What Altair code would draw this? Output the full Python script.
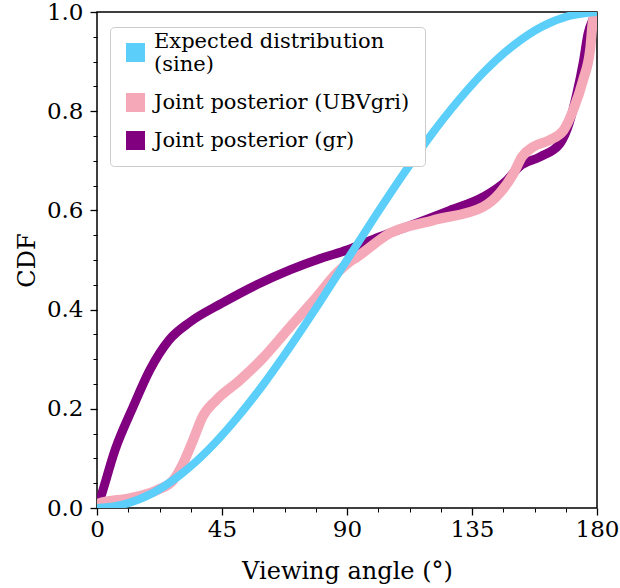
import altair as alt
import pandas as pd

# Expected distribution (sine)
sine_theta = [0, 10, 20, 30, 40, 50, 60, 70, 80, 90, 100, 110, 120, 130, 140, 150, 160, 170, 180]
sine_cdf = [0.0, 0.008, 0.03, 0.067, 0.117, 0.179, 0.25, 0.329, 0.413, 0.5, 0.587, 0.671, 0.75, 0.821, 0.883, 0.933, 0.97, 0.992, 1.0]

# Joint posterior (UBVgri)
ubv_theta = [0, 1, 12, 21.5, 27.4, 31, 34.6, 38, 43, 51.5, 60, 69.5, 79, 86.4, 90.4, 93.6, 105.5, 121, 139, 145, 150, 153, 157, 163, 168, 171.4, 175, 177.5, 178.6, 180]
ubv_cdf = [0.0, 0.01, 0.02, 0.036, 0.056, 0.09, 0.137, 0.184, 0.218, 0.258, 0.304, 0.365, 0.425, 0.474, 0.494, 0.506, 0.554, 0.58, 0.607, 0.635, 0.675, 0.708, 0.728, 0.742, 0.762, 0.802, 0.863, 0.923, 0.984, 1.0]

# Joint posterior (gr)
gr_theta = [0, 1, 6.5, 13, 19, 26, 33.5, 45, 57.5, 69.5, 81, 90, 100, 111.6, 127, 139, 147.6, 152, 159.5, 166.7, 170, 172.8, 175, 176.8, 178.5, 180]
gr_cdf = [0.0, 0.016, 0.117, 0.204, 0.278, 0.339, 0.375, 0.413, 0.45, 0.48, 0.504, 0.52, 0.543, 0.567, 0.60, 0.627, 0.661, 0.688, 0.708, 0.735, 0.776, 0.837, 0.897, 0.957, 0.985, 1.0]

series_names = ["Expected distribution (sine)", "Joint posterior (UBVgri)", "Joint posterior (gr)"]
series_colors = ["#5BCEFA", "#F5A9B8", "#800080"]

# tick positions: majors and minors
x_ticks = [0, 11.25, 22.5, 33.75, 45, 56.25, 67.5, 78.75, 90, 101.25, 112.5, 123.75, 135, 146.25, 157.5, 168.75, 180]
y_ticks = [0.0, 0.05, 0.1, 0.15, 0.2, 0.25, 0.3, 0.35, 0.4, 0.45, 0.5, 0.55, 0.6, 0.65, 0.7, 0.75, 0.8, 0.85, 0.9, 0.95, 1.0]

def frame(th, v, name):
    return pd.DataFrame({"theta": th, "cdf": v, "series": name})

df_sine = frame(sine_theta, sine_cdf, series_names[0])
df_ubv = frame(ubv_theta, ubv_cdf, series_names[1])
df_gr = frame(gr_theta, gr_cdf, series_names[2])

FONT = "DejaVu Serif"

xscale = alt.Scale(domain=[0, 180], nice=False, zero=False)
yscale = alt.Scale(domain=[0, 1], nice=False, zero=False)

x_major_test = "datum.value % 45 === 0"
y_major_test = "abs(round(datum.value * 20)) % 4 === 0"

color = alt.Color(
    "series:N",
    scale=alt.Scale(domain=series_names, range=series_colors),
    sort=series_names,
    legend=alt.Legend(
        title=None,
        orient="none",
        legendX=13,
        legendY=15,
        symbolType="square",
        symbolSize=361,
        symbolStrokeWidth=0,
        symbolFillColor={"expr": "scale('color', datum.value)"},
        symbolOpacity=1,
        labelFont=FONT,
        labelFontSize=21,
        labelColor="black",
        labelLimit=400,
        labelOffset=8,
        labelBaseline={"expr": "datum.value == 'Expected distribution (sine)' ? 'line-bottom' : 'middle'"},
        rowPadding=16,
        padding=15,
        strokeColor="#cccccc",
        fillColor="white",
        cornerRadius=4,
        labelExpr="datum.label == 'Expected distribution (sine)' ? ['Expected distribution', '(sine)'] : datum.label",
    ),
)

x_axis = alt.Axis(
    values=x_ticks, title="Viewing angle (°)", orient="bottom", grid=False, labelFlush=False,
    labelExpr=x_major_test + " ? datum.label : ''",
    tickSize={"condition": {"test": x_major_test, "value": 7}, "value": 4},
    tickWidth={"condition": {"test": x_major_test, "value": 1.3}, "value": 1},
    tickColor="black", domain=False,
    labelFont=FONT, labelFontSize=23, labelColor="black", labelPadding=3,
    titleFont=FONT, titleFontSize=24, titleFontWeight="normal", titleColor="black", titlePadding=18,
)
y_axis = alt.Axis(
    values=y_ticks, title="CDF", orient="left", grid=False, format=".1f", labelFlush=False,
    labelExpr=y_major_test + " ? datum.label : ''",
    tickSize={"condition": {"test": y_major_test, "value": 7}, "value": 4},
    tickWidth={"condition": {"test": y_major_test, "value": 1.3}, "value": 1},
    tickColor="black", domain=False,
    labelFont=FONT, labelFontSize=23, labelColor="black", labelPadding=7,
    titleFont=FONT, titleFontSize=24, titleFontWeight="normal", titleColor="black", titlePadding=7,
)

def line(df, w):
    return alt.Chart(df).mark_line(strokeWidth=w, interpolate="monotone", strokeCap="butt", clip=True).encode(
        x=alt.X("theta:Q", scale=xscale, axis=x_axis),
        y=alt.Y("cdf:Q", scale=yscale, axis=y_axis),
        color=color,
    )

gr_layer = line(df_gr, 9)
ubv_layer = line(df_ubv, 10)
sine_layer = line(df_sine, 8)

chart = alt.layer(gr_layer, ubv_layer, sine_layer).properties(
    width=500, height=496,
    autosize=alt.AutoSizeParams(type="none"),
    padding={"left": 97, "top": 12, "right": 23, "bottom": 80},
    background="white",
).configure_view(stroke="black", strokeWidth=1.5)

chart.save("out.html", embed_options={"renderer": "svg", "actions": False})
